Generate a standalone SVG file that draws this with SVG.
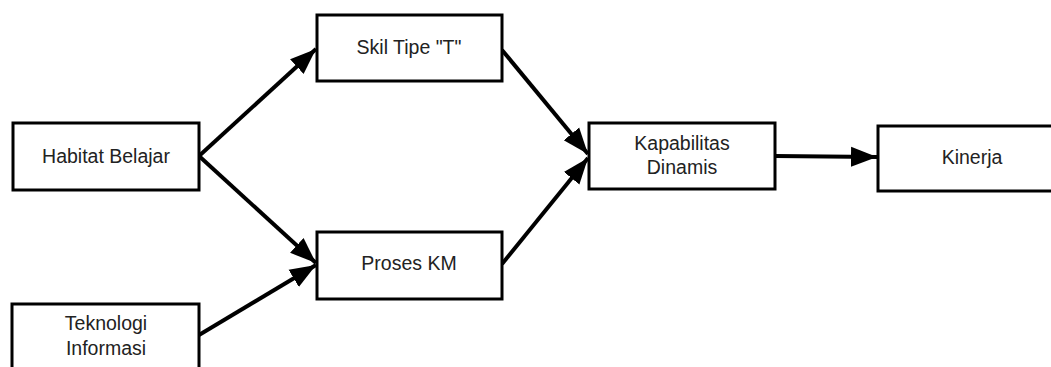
<svg xmlns="http://www.w3.org/2000/svg" width="1051" height="367" viewBox="0 0 1051 367">
<style>
.box{fill:#fff;stroke:#000;stroke-width:3}
.lbl{font-family:"Liberation Sans",Arial,sans-serif;font-size:19.5px;fill:#222;text-anchor:middle;dominant-baseline:central}
.edge{stroke:#000;stroke-width:4;fill:none}
</style>
<defs>
<marker id="ah" markerUnits="userSpaceOnUse" markerWidth="28" markerHeight="22" refX="26" refY="11" orient="auto">
<path d="M0,1 L26,11 L0,21 Z" fill="#000"/>
</marker>
</defs>
<rect width="1051" height="367" fill="#fff"/>
<g id="connectors">
<line class="edge" x1="199" y1="156" x2="316" y2="49" marker-end="url(#ah)"/>
<line class="edge" x1="199" y1="156" x2="316" y2="263" marker-end="url(#ah)"/>
<line class="edge" x1="199" y1="335" x2="316" y2="265" marker-end="url(#ah)"/>
<line class="edge" x1="502" y1="50" x2="588" y2="154" marker-end="url(#ah)"/>
<line class="edge" x1="502" y1="264" x2="588" y2="158" marker-end="url(#ah)"/>
<line class="edge" x1="775" y1="156" x2="877" y2="157" marker-end="url(#ah)"/>
</g>
<g id="habitat">
<rect class="box" x="13" y="123" width="186" height="67"/>
<text class="lbl" x="106" y="156">Habitat Belajar</text>
</g>
<g id="skil">
<rect class="box" x="317" y="15" width="185" height="66"/>
<text class="lbl" x="409" y="47">Skil Tipe "T"</text>
</g>
<g id="proses">
<rect class="box" x="317" y="232" width="185" height="67"/>
<text class="lbl" x="409" y="263">Proses KM</text>
</g>
<g id="teknologi">
<rect class="box" x="12" y="304" width="187" height="70"/>
<text class="lbl" x="106" y="323">Teknologi</text>
<text class="lbl" x="106" y="348">Informasi</text>
</g>
<g id="kapabilitas">
<rect class="box" x="589" y="123" width="186" height="66"/>
<text class="lbl" x="682" y="143">Kapabilitas</text>
<text class="lbl" x="682" y="167">Dinamis</text>
</g>
<g id="kinerja">
<rect class="box" x="878" y="126" width="180" height="65"/>
<text class="lbl" x="972" y="157">Kinerja</text>
</g>
</svg>
